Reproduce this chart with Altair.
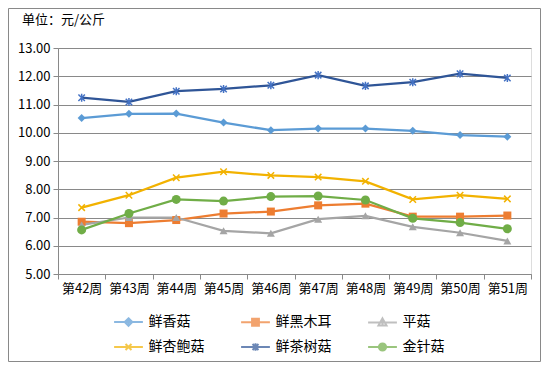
import altair as alt
import pandas as pd

title_text = ["单位：元/公斤"]
weeks = ["第42周", "第43周", "第44周", "第45周", "第46周", "第47周", "第48周", "第49周", "第50周", "第51周"]
series = ["鲜香菇", "鲜黑木耳", "平菇", "鲜杏鲍菇", "鲜茶树菇", "金针菇"]
# legend fills column by column (2 rows), so this order gives rows 香菇/黑木耳/平菇 and 杏鲍菇/茶树菇/金针菇
legend_order = ["鲜香菇", "鲜杏鲍菇", "鲜黑木耳", "鲜茶树菇", "平菇", "金针菇"]

v_xianggu = [10.52, 10.67, 10.68, 10.36, 10.09, 10.15, 10.15, 10.07, 9.92, 9.86]
v_muer = [6.85, 6.80, 6.91, 7.14, 7.21, 7.43, 7.49, 7.03, 7.03, 7.07]
v_pinggu = [6.74, 7.00, 7.00, 6.53, 6.44, 6.94, 7.06, 6.67, 6.46, 6.17]
v_xingbaogu = [7.35, 7.79, 8.41, 8.62, 8.49, 8.43, 8.28, 7.64, 7.79, 7.66]
v_chashugu = [11.24, 11.09, 11.47, 11.55, 11.68, 12.04, 11.66, 11.79, 12.09, 11.94]
v_jinzhengu = [6.56, 7.14, 7.64, 7.58, 7.74, 7.76, 7.62, 6.97, 6.82, 6.60]
all_values = [v_xianggu, v_muer, v_pinggu, v_xingbaogu, v_chashugu, v_jinzhengu]

line_colors = ["#5B9BD5", "#ED7D31", "#A5A5A5", "#F2B200", "#2F5597", "#70AD47"]
marker_colors = ["#5B9BD5", "#ED7D31", "#A5A5A5", "#F2B200", "#4472C4", "#70AD47"]

FONT = "Noto Sans CJK SC"
GRAY = "#898989"

rows = []
for s, vals in zip(series, all_values):
    for w, v in zip(weeks, vals):
        rows.append({"week": w, "series": s, "value": v})
df = pd.DataFrame(rows)

W, H = 473, 226

x_enc = alt.X("week:N",
              scale=alt.Scale(domain=weeks, paddingInner=0, paddingOuter=0),
              axis=alt.Axis(title=None, labelAngle=0, labelFont=FONT, labelFontSize=13,
                            labelColor="#000000", tickBand="extent", tickSize=5,
                            tickColor=GRAY, domainColor=GRAY, labelPadding=3, grid=False))
y_enc = alt.Y("value:Q", scale=alt.Scale(domain=[5, 13], nice=False, zero=False),
              axis=alt.Axis(title=None, values=[5, 6, 7, 8, 9, 10, 11, 12, 13], format=".2f",
                            labelFont=FONT, labelFontSize=13, labelColor="#000000",
                            tickSize=5, tickColor=GRAY, domainColor=GRAY, gridColor=GRAY,
                            grid=True, labelPadding=3))

base = alt.Chart(df)

lines = []
for s, c in zip(series, line_colors):
    lines.append(
        base.transform_filter(alt.datum.series == s)
        .mark_line(strokeWidth=2.25, color=c)
        .encode(x=x_enc, y=y_enc)
    )

X_PATH = "M-1,-1L1,1M-1,1L1,-1"
AST_PATH = "M-1,-1L1,1M-1,1L1,-1M0,-1.25L0,1.25"
marker_specs = [
    dict(shape="diamond", filled=True, size=64),
    dict(shape="square", filled=True, size=64),
    dict(shape="triangle-up", filled=True, size=64),
    dict(shape=X_PATH, filled=False, size=42, strokeWidth=1.5),
    dict(shape=AST_PATH, filled=False, size=42, strokeWidth=1.5),
    dict(shape="circle", filled=True, size=81),
]
markers = []
for s, c, spec in zip(series, marker_colors, marker_specs):
    markers.append(
        base.transform_filter(alt.datum.series == s)
        .mark_point(color=c, opacity=1, **spec)
        .encode(x=x_enc, y=y_enc)
    )

LINE = "M-1.6,0L1.6,0"
legend_paths_by_series = [
    LINE + "M0,-0.42L0.42,0L0,0.42L-0.42,0ZM0,-0.25L0,0.25",
    LINE + "M-0.38,-0.38L0.38,-0.38L0.38,0.38L-0.38,0.38ZM0,-0.38L0,0.38M-0.19,-0.38L-0.19,0.38M0.19,-0.38L0.19,0.38",
    LINE + "M0,-0.45L0.45,0.35L-0.45,0.35ZM0,-0.2L0,0.35",
    LINE + "M-0.33,-0.33L0.33,0.33M-0.33,0.33L0.33,-0.33",
    LINE + "M-0.33,-0.33L0.33,0.33M-0.33,0.33L0.33,-0.33M0,-0.42L0,0.42",
    LINE + "M-0.4,0A0.4,0.4,0,1,0,0.4,0A0.4,0.4,0,1,0,-0.4,0ZM0,-0.4L0,0.4M-0.2,-0.3L-0.2,0.3M0.2,-0.3L0.2,0.3",
]
legend_colors = [line_colors[series.index(s)] for s in legend_order]
legend_paths = [legend_paths_by_series[series.index(s)] for s in legend_order]

def make_leg():
    return alt.Legend(title=None, orient="none", legendX=60.5, legendY=264, columns=3,
                      columnPadding=32, rowPadding=7, gridAlign="all",
                      symbolSize=324, symbolStrokeWidth=2,
                      labelFont=FONT, labelFontSize=14, labelColor="#000000", labelOffset=10,
                      labelLimit=200)

legend_layer = base.mark_point(filled=False, strokeOpacity=0).encode(
    x=x_enc, y=y_enc,
    color=alt.Color("series:N", scale=alt.Scale(domain=legend_order, range=legend_colors), legend=make_leg()),
    shape=alt.Shape("series:N", scale=alt.Scale(domain=legend_order, range=legend_paths), legend=make_leg()),
)

title_layer = alt.Chart(pd.DataFrame({"t": title_text})).mark_text(
    align="left", baseline="middle", font=FONT, fontSize=13, color="#000000"
).encode(text="t:N", x=alt.value(-36), y=alt.value(-28))

border = alt.Chart(pd.DataFrame({"a": [1]})).mark_rect(
    fillOpacity=0, stroke=GRAY, strokeWidth=1
).encode(x=alt.value(-49.5), x2=alt.value(W + 9.5), y=alt.value(-39.5), y2=alt.value(H + 87.5))

chart = alt.layer(border, title_layer, *lines, *markers, legend_layer).properties(
    width=W, height=H,
    autosize=alt.AutoSizeParams(type="none"),
    padding={"left": 50, "top": 40, "right": 10, "bottom": 88},
).configure_view(stroke=None).configure(background="#FFFFFF")

chart.save("out.html", embed_options={"renderer": "svg", "actions": False})
